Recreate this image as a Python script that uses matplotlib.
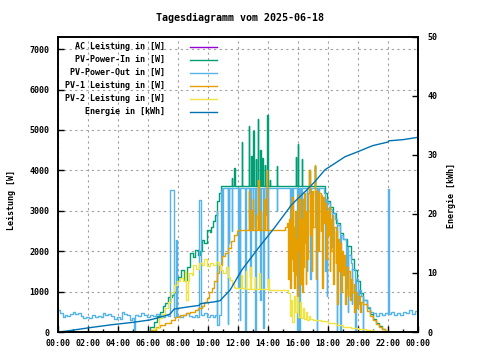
import matplotlib
matplotlib.use('Agg')
import matplotlib.pyplot as plt
from matplotlib.lines import Line2D

# time in hours since midnight, power in W, energy in kWh

# PV-Power-Out
out_t = [0.00, 0.15, 0.30, 0.45, 0.60, 0.80, 1.00, 1.15, 1.30, 1.50, 1.65, 1.85, 2.05, 2.25, 2.45,
         2.65, 2.85, 3.00, 3.15, 3.35, 3.55, 3.75, 3.95, 4.10, 4.25, 4.40, 4.60, 4.80, 4.95, 5.05,
         5.12, 5.30, 5.50, 5.70, 5.90, 6.10, 6.30, 6.50, 6.70, 6.90, 7.10, 7.30, 7.47, 7.75, 7.88,
         7.95, 8.10, 8.30, 8.50, 8.70, 8.90, 9.10, 9.25, 9.40, 9.50, 9.70, 9.90, 10.10, 10.30, 10.45,
         10.57, 10.62, 10.70, 10.85, 10.90, 10.93, 10.97, 11.30, 11.33, 11.38, 11.42, 11.58, 11.61,
         12.00, 12.04, 12.10, 12.13, 12.47, 12.50, 12.75, 12.78, 12.82, 12.85, 13.00, 13.03, 13.13,
         13.17, 13.33, 13.36, 13.47, 13.50, 13.67, 13.70, 13.85, 13.88, 14.00, 14.03, 14.60, 14.63,
         15.45, 15.50, 15.60, 15.65, 15.90, 15.93, 16.00, 16.05, 16.10, 16.20, 16.25, 16.58, 16.62,
         16.80, 16.85, 17.24, 17.28, 17.35, 17.40, 17.70, 17.80, 17.85, 17.90, 17.95, 18.10, 18.24,
         18.28, 18.45, 18.58, 18.62, 18.80, 18.88, 19.00, 19.20, 19.25, 19.30, 19.35, 19.50, 19.58,
         19.62, 19.80, 19.85, 20.00, 20.05, 20.20, 20.30, 20.35, 20.60, 20.80, 21.00, 21.20, 21.40,
         21.60, 21.80, 22.00, 22.03, 22.08, 22.20, 22.40, 22.60, 22.80, 23.00, 23.20, 23.40, 23.60,
         23.80, 24.00]
out_w = [545, 480, 380, 420, 390, 440, 505, 440, 470, 400, 340, 380, 350, 420, 370,
         400, 360, 470, 420, 450, 400, 330, 380, 315, 505, 450, 420, 300, 350, 20,
         430, 400, 460, 410, 380, 430, 390, 440, 410, 380, 430, 400, 3520, 380, 2280,
         400, 370, 430, 460, 400, 380, 430, 380, 3270, 420, 470, 380, 420, 380, 420,
         3000, 170, 420, 3500, 3560, 1870, 3560, 200, 3560, 2200, 3560, 2500, 3560,
         1120, 3560, 300, 3560, 50, 3560, 2800, 3560, 1370, 3560, 2600, 3560, 0,
         3560, 2800, 3560, 790, 3560, 100, 3560, 2900, 3560, 1120, 3560, 3000, 3560,
         2200, 3560, 2300, 3560, 380, 0, 3560, 0, 3560, 2000, 3560, 1500, 3560,
         1300, 3560, 0, 3560, 2300, 3560, 3450, 1500, 3300, 900, 3200, 3050, 2100,
         2950, 2800, 0, 2650, 0, 2400, 2300, 1100, 2100, 500, 1900, 1700, 700,
         1550, 0, 1300, 700, 1050, 900, 0, 800, 630, 500, 460, 400, 470,
         420, 480, 450, 3540, 450, 500, 430, 460, 420, 500, 470, 540, 450,
         520, 480]

# AC Leistung follows the inverter output almost exactly
ac_t = list(out_t)
ac_w = list(out_w)

# PV-Power-In
in_t = [5.85, 6.10, 6.40, 6.60, 6.80, 7.00, 7.10, 7.35, 7.60, 7.75, 7.90, 8.00, 8.20, 8.40, 8.60,
        8.80, 9.00, 9.15, 9.30, 9.45, 9.60, 9.75, 9.90, 10.10, 10.20, 10.35, 10.45, 10.60, 10.75,
        10.85, 11.60, 11.63, 11.75, 11.78, 12.25, 12.28, 12.73, 12.76, 12.87, 12.90, 13.02, 13.05,
        13.18, 13.21, 13.33, 13.36, 13.47, 13.50, 13.62, 13.65, 13.80, 13.83, 13.95, 13.98, 14.13,
        14.16, 14.58, 14.61, 15.85, 15.88, 16.00, 16.03, 16.25, 16.28, 16.75, 16.78, 17.10, 17.13,
        17.70, 17.80, 17.95, 18.10, 18.30, 18.55, 18.80, 19.00, 19.25, 19.50, 19.70, 19.90, 20.10,
        20.35, 20.60, 20.80, 21.00, 21.20, 21.40, 21.60, 21.80, 21.95]
in_w = [0, 130, 255, 400, 500, 650, 720, 875, 920, 1000, 1290, 1370, 1540, 1290, 1620,
        1950, 1860, 2030, 1900, 2000, 2280, 2200, 2530, 2480, 2600, 2750, 2900, 3250, 3450,
        3610, 3820, 3610, 4070, 3610, 4700, 3610, 5090, 3610, 4350, 3610, 4970, 3610,
        4270, 3610, 5280, 3610, 4510, 3610, 4300, 3610, 4140, 3610, 5380, 3610, 3770,
        3610, 4100, 3610, 4340, 3610, 4640, 3610, 4270, 3610, 4020, 3610, 4100, 3610,
        3610, 3450, 3250, 3100, 2950, 2700, 2450, 2300, 2120, 1800, 1540, 1250, 960,
        800, 600, 450, 330, 230, 150, 80, 25, 0]

# PV-1 Leistung
pv1_t = [6.00, 6.20, 6.50, 6.80, 7.10, 7.50, 7.80, 8.10, 8.50, 8.80, 9.10, 9.30, 9.60, 9.75, 9.90,
         10.05, 10.25, 10.40, 10.60, 10.75, 10.95, 11.15, 11.35, 11.55, 11.75, 11.90, 12.00, 12.73,
         12.76, 12.87, 12.90, 13.00, 13.03, 13.20, 13.23, 13.36, 13.39, 13.50, 13.53, 13.75, 13.78,
         13.93, 13.96, 15.10, 15.25, 15.35, 15.40, 15.45, 15.50, 15.55, 15.60, 15.65, 15.70, 15.75,
         15.80, 15.85, 15.90, 15.95, 16.00, 16.05, 16.10, 16.15, 16.20, 16.25, 16.30, 16.35, 16.40,
         16.45, 16.50, 16.55, 16.60, 16.65, 16.75, 16.78, 16.85, 16.90, 16.95, 17.00, 17.10, 17.13,
         17.18, 17.22, 17.30, 17.35, 17.40, 17.50, 17.55, 17.60, 17.65, 17.75, 17.80, 17.85, 17.90,
         18.00, 18.05, 18.10, 18.15, 18.20, 18.30, 18.35, 18.40, 18.50, 18.55, 18.60, 18.65, 18.70,
         18.80, 18.85, 18.90, 19.00, 19.05, 19.10, 19.20, 19.30, 19.35, 19.45, 19.50, 19.60, 19.70,
         19.75, 19.80, 19.90, 20.00, 20.10, 20.20, 20.35, 20.60, 20.80, 21.00, 21.20, 21.40, 21.60,
         21.80, 21.95]
pv1_w = [0, 60, 120, 170, 230, 300, 370, 420, 460, 490, 540, 590, 650, 750, 850,
         1000, 1100, 1250, 1450, 1660, 1870, 1950, 2080, 2240, 2400, 2490, 2520, 3500,
         2520, 3030, 2520, 3300, 2520, 2900, 2520, 3770, 2520, 3000, 2520, 3300, 2520,
         4020, 2520, 2600, 2700, 1300, 2800, 1100, 3200, 1800, 3350, 1500, 2600, 1100,
         3000, 1400, 2300, 900, 3400, 2000, 3300, 1200, 2800, 1000, 3300, 1600, 3450,
         2200, 1200, 3000, 1800, 3450, 4000, 2400, 3400, 1500, 3500, 2600, 4140, 3400,
         1300, 3500, 3300, 2000, 3450, 2500, 3400, 1100, 3350, 2700, 3200, 1800, 3000,
         2400, 3100, 1500, 2800, 2000, 2900, 1200, 2600, 1700, 2500, 700, 2300, 1500,
         2200, 1000, 2000, 1400, 1900, 700, 1600, 900, 1500, 800, 1300, 1000, 1200,
         500, 1000, 600, 900, 500, 750, 700, 520, 400, 300, 210, 130, 70,
         20, 0]

# PV-2 Leistung
pv2_t = [6.10, 6.40, 6.70, 6.90, 7.10, 7.30, 7.55, 7.75, 7.90, 8.10, 8.30, 8.45, 8.55, 8.65, 8.75,
         8.90, 9.00, 9.20, 9.40, 9.60, 9.75, 9.90, 10.10, 10.30, 10.50, 10.70, 10.85, 11.00, 11.20,
         11.30, 11.45, 11.60, 11.70, 11.80, 12.00, 12.20, 12.25, 12.50, 12.55, 12.80, 12.85, 13.10,
         13.15, 13.40, 13.45, 14.00, 14.05, 14.50, 15.00, 15.30, 15.35, 15.45, 15.50, 15.60, 15.70,
         15.80, 15.90, 16.00, 16.10, 16.20, 16.30, 16.40, 16.50, 16.60, 16.70, 16.80, 17.00, 17.50,
         18.00, 18.50, 19.00, 19.50, 20.00, 20.50, 21.00, 21.50, 21.90]
pv2_w = [0, 100, 340, 450, 590, 750, 1000, 1170, 1250, 1330, 1250, 1500, 800, 1250, 1450,
         1400, 1660, 1550, 1700, 1650, 1800, 1640, 1700, 1660, 1740, 1650, 1540, 1450, 1600,
         1350, 1290, 1200, 1120, 1100, 1080, 1400, 1080, 1500, 1070, 1610, 1065, 1370,
         1060, 1450, 1055, 1300, 1050, 1045, 1040, 1030, 960, 400, 800, 250, 900,
         500, 870, 370, 750, 350, 600, 320, 500, 300, 400, 320, 300, 260,
         220, 170, 130, 100, 70, 50, 30, 15, 0]

# Energie
en_t = [0.0, 0.7, 2.1, 3.6, 5.0, 6.1, 6.8, 7.45, 7.75, 8.0, 8.8, 9.4, 9.5, 10.4, 10.8, 11.13,
        11.47, 12.25, 13.35, 14.47, 15.58, 16.47, 17.13, 17.8, 18.47, 19.13, 20.13, 20.6, 21.0,
        22.0, 22.05, 23.0, 24.0]
en_kwh = [0.0, 0.2, 0.73, 1.24, 1.64, 2.03, 2.5, 3.0, 3.9, 4.0, 4.3, 4.5, 4.8, 5.1, 5.3, 6.2,
          7.1, 10.5, 14.2, 17.8, 21.6, 23.8, 25.5, 27.5, 28.6, 29.7, 30.7, 31.2, 31.6,
          32.2, 32.4, 32.6, 33.0]

hour_ticks = [0, 2, 4, 6, 8, 10, 12, 14, 16, 18, 20, 22, 24]
hour_labels = ['00:00', '02:00', '04:00', '06:00', '08:00', '10:00', '12:00',
               '14:00', '16:00', '18:00', '20:00', '22:00', '00:00']

labels = ['AC Leistung in [W]', 'PV-Power-In in [W]', 'PV-Power-Out in [W]',
          'PV-1 Leistung in [W]', 'PV-2 Leistung in [W]', 'Energie in [kWh]']
colors = ['#9400D3', '#009E73', '#56B4E9', '#E69F00', '#F0E442', '#0072B2']

plt.rcParams['font.family'] = 'DejaVu Sans Mono'
plt.rcParams['font.size'] = 6
plt.rcParams['font.weight'] = 'bold'
# no path simplification, so the step lines stay rectilinear and snap to pixels
plt.rcParams['path.simplify'] = False

fig = plt.figure(figsize=(4.8, 3.6), dpi=100)
ax = fig.add_axes([58/480, 28/360, 360/480, 295/360])
ax2 = ax.twinx()

lw = 1.0
kw = dict(where='post', snap=True)
# AC sits right under PV-Power-Out
ax.step(ac_t, ac_w, color=colors[0], lw=0.7, **kw)
ax.step(in_t, in_w, color=colors[1], lw=lw, **kw)
ax.step(out_t, out_w, color=colors[2], lw=lw, **kw)
ax.step(pv1_t, pv1_w, color=colors[3], lw=lw, **kw)
ax.step(pv2_t, pv2_w, color=colors[4], lw=lw, **kw)
ax2.plot(en_t, en_kwh, color=colors[5], lw=1.0)

ax.set_xlim(0, 24)
ax.set_ylim(0, 7300)
ax2.set_ylim(0, 50)
ax.set_xticks(hour_ticks)
ax.set_xticklabels(hour_labels)
ax.set_xticks(range(25), minor=True)
ax.set_yticks(range(0, 7001, 1000))
ax2.set_yticks(range(0, 51, 10))

ax.set_axisbelow(True)
ax.grid(True, color='#a0a0a0', linestyle=(0, (2, 3)), linewidth=0.8)
ax.tick_params(axis='both', which='major', direction='in', length=4, width=1)
ax.tick_params(axis='x', which='minor', direction='in', length=2.5, width=1)
ax.tick_params(axis='y', pad=6)
ax.tick_params(axis='x', pad=5)
ax2.tick_params(axis='y', direction='in', length=4, width=1, pad=7)
for a in (ax, ax2):
    for s in a.spines.values():
        s.set_linewidth(1.2)
        s.set_color('black')

fig.text(0.5, 1 - 18/360, 'Tagesdiagramm vom 2025-06-18', ha='center', va='center', fontsize=7.2)
fig.text(12/480, 1 - 200/360, 'Leistung [W]', rotation=90, ha='center', va='center')
fig.text(452/480, 1 - 195/360, 'Energie [kWh]', rotation=90, ha='center', va='center')

# legend, text right aligned with the line sample behind it
for i, (lab, col) in enumerate(zip(labels, colors)):
    y = 1 - (46.7 + 13 * i) / 360
    fig.text(165/480, y, lab, ha='right', va='center')
    fig.add_artist(Line2D([190/480, 217/480], [y, y], color=col, lw=1.0, transform=fig.transFigure))

fig.savefig('out.png', dpi=100)
